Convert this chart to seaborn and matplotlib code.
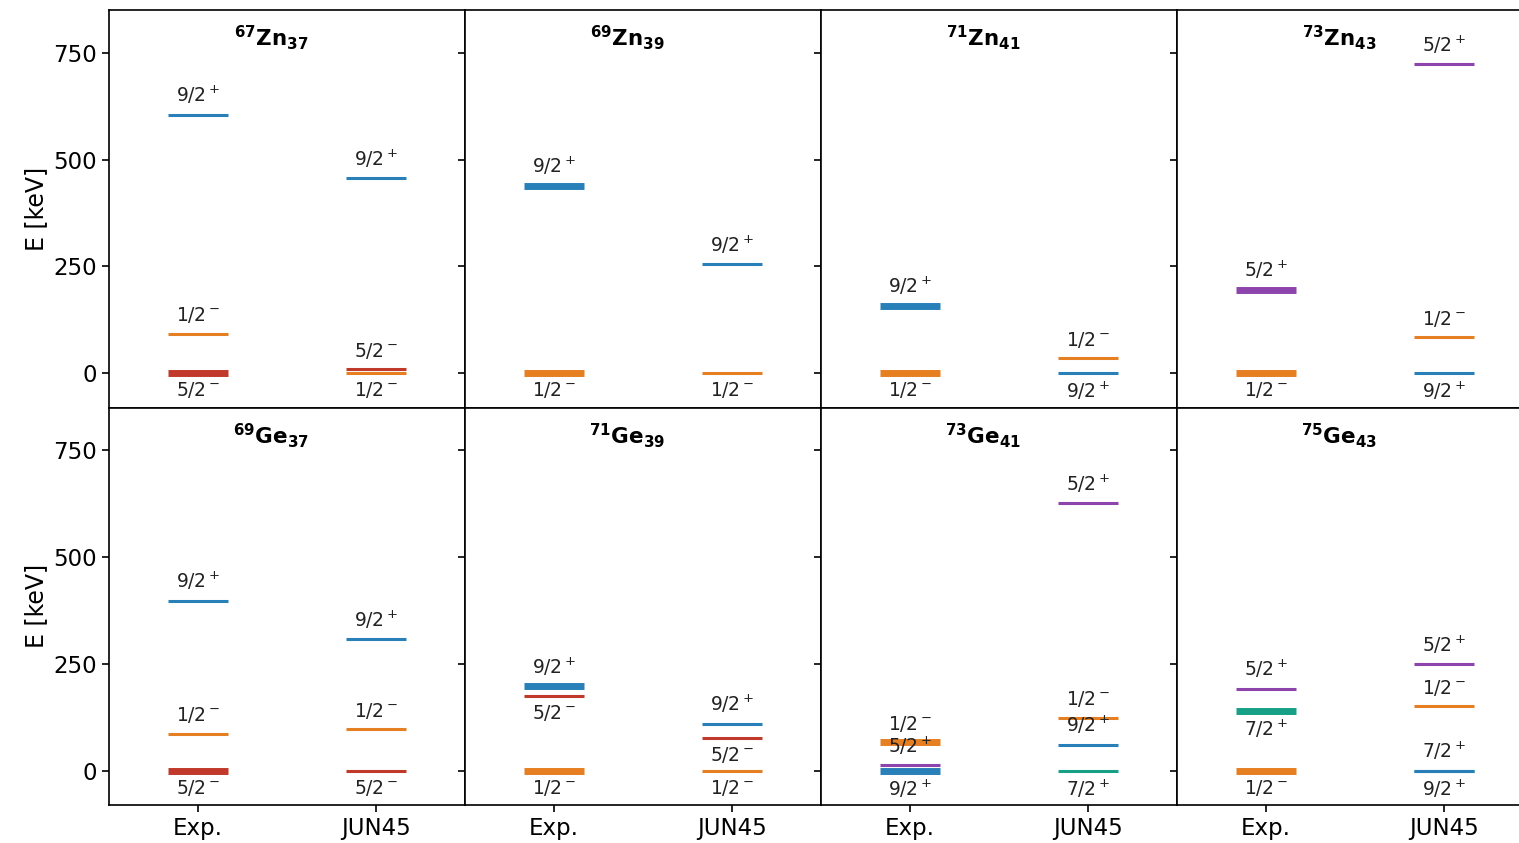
import matplotlib
matplotlib.use("Agg")
import matplotlib.pyplot as plt
import seaborn as sns
import pandas as pd

# ---------------- data ----------------
masses = [67, 69, 71, 73, 69, 71, 73, 75]
elements = ["Zn", "Zn", "Zn", "Zn", "Ge", "Ge", "Ge", "Ge"]
neutrons = [37, 39, 41, 43, 37, 39, 41, 43]
columns = ["Exp.", "JUN45"]

exp_spins = [
    ["9/2+", "1/2-", "5/2-"],
    ["9/2+", "1/2-"],
    ["9/2+", "1/2-"],
    ["5/2+", "1/2-"],
    ["9/2+", "1/2-", "5/2-"],
    ["9/2+", "5/2-", "1/2-"],
    ["1/2-", "5/2+", "9/2+"],
    ["5/2+", "7/2+", "1/2-"],
]
exp_energies = [
    [605, 93, 0],
    [439, 0],
    [158, 0],
    [196, 0],
    [398, 87, 0],
    [198, 175, 0],
    [67, 13, 0],
    [192, 140, 0],
]
exp_thick = [
    [False, False, True],
    [True, True],
    [True, True],
    [True, True],
    [False, False, True],
    [True, False, True],
    [True, False, True],
    [False, True, True],
]
exp_side = [
    ["above", "above", "below"],
    ["above", "below"],
    ["above", "below"],
    ["above", "below"],
    ["above", "above", "below"],
    ["above", "below", "below"],
    ["above", "above", "below"],
    ["above", "below", "below"],
]

jun_spins = [
    ["9/2+", "5/2-", "1/2-"],
    ["9/2+", "1/2-"],
    ["1/2-", "9/2+"],
    ["5/2+", "1/2-", "9/2+"],
    ["9/2+", "1/2-", "5/2-"],
    ["9/2+", "5/2-", "1/2-"],
    ["5/2+", "1/2-", "9/2+", "7/2+"],
    ["5/2+", "1/2-", "7/2+", "9/2+"],
]
jun_energies = [
    [457, 10, 0],
    [255, 0],
    [35, 0],
    [724, 84, 0],
    [308, 98, 0],
    [110, 77, 0],
    [626, 124, 61, 0],
    [250, 152, 0, 0],
]
jun_side = [
    ["above", "above", "below"],
    ["above", "below"],
    ["above", "below"],
    ["above", "above", "below"],
    ["above", "above", "below"],
    ["above", "below", "below"],
    ["above", "above", "above", "below"],
    ["above", "above", "above", "below"],
]

spin_order = ["7/2+", "5/2+", "1/2-", "5/2-", "9/2+"]
spin_colors = {
    "9/2+": "#2980b9",
    "1/2-": "#e67e22",
    "5/2-": "#c0392b",
    "5/2+": "#8e44ad",
    "7/2+": "#16a085",
}
width_map = {"thick": 5.0, "thin": 2.2}
half_len = 0.17

# ---------------- style ----------------
sns.set_theme(style="ticks")
plt.rcParams.update({
    "font.family": ["DejaVu Sans"],
    "axes.edgecolor": "black",
    "axes.linewidth": 1.2,
    "axes.labelcolor": "black",
    "text.color": "black",
    "xtick.major.size": 5,
    "ytick.major.size": 5,
    "xtick.major.width": 1.2,
    "ytick.major.width": 1.2,
    "xtick.color": "black",
    "ytick.color": "black",
    "lines.solid_capstyle": "butt",
    "mathtext.default": "regular",
})


def spin_tex(s):
    return s[:-1] + r"$\,^{" + ("+" if s[-1] == "+" else "-") + "}$"


fig, axes = plt.subplots(2, 4, figsize=(15.19, 8.43), dpi=100, sharex=True, sharey=True)
fig.subplots_adjust(left=109 / 1519, right=1533 / 1519, top=1 - 10 / 843,
                    bottom=1 - 805 / 843, wspace=0, hspace=0)

for i, ax in enumerate(axes.flat):
    rows = []
    for col, (sp, en, th) in enumerate([
        (exp_spins[i], exp_energies[i], exp_thick[i]),
        (jun_spins[i], jun_energies[i], [False] * len(jun_spins[i])),
    ]):
        for k, (s, e, t) in enumerate(zip(sp, en, th)):
            for dx in (-half_len, half_len):
                rows.append({"x": col + dx, "E": e, "spin": s,
                             "w": "thick" if t else "thin",
                             "unit": f"{col}-{k}"})
    df = pd.DataFrame(rows)
    hue_order = [s for s in spin_order if s in set(df["spin"])]
    sns.lineplot(data=df, x="x", y="E", hue="spin", hue_order=hue_order,
                 palette=spin_colors, size="w", sizes=width_map,
                 units="unit", estimator=None, sort=False, legend=False, ax=ax)

    for col, (sp, en, sd) in enumerate([
        (exp_spins[i], exp_energies[i], exp_side[i]),
        (jun_spins[i], jun_energies[i], jun_side[i]),
    ]):
        for s, e, side in zip(sp, en, sd):
            if side == "above":
                ax.annotate(spin_tex(s), (col, e), xytext=(0, 6),
                            textcoords="offset points", ha="center",
                            va="bottom", fontsize=13.5, color="#222222")
            else:
                ax.annotate(spin_tex(s), (col, e), xytext=(0, -5),
                            textcoords="offset points", ha="center",
                            va="top", fontsize=13.5, color="#222222")

    title = (r"$^{\mathbf{" + str(masses[i]) + r"}}$" + elements[i]
             + r"$_{\mathbf{" + str(neutrons[i]) + r"}}$")
    ax.text(0.455, 0.93, title, transform=ax.transAxes, ha="center",
            va="center", fontsize=15.5, fontweight="bold", color="black")

    ax.set_xlim(-0.5, 1.5)
    ax.set_ylim(-80, 850)
    ax.set_xticks([0, 1])
    ax.set_xticklabels(columns)
    ax.set_yticks([0, 250, 500, 750])
    ax.set_xlabel("")
    ax.set_ylabel("")
    ax.tick_params(labelsize=16.5)

for r in range(2):
    axes[r, 0].set_ylabel("E [keV]", fontsize=17)

fig.savefig("out.png", dpi=100)
